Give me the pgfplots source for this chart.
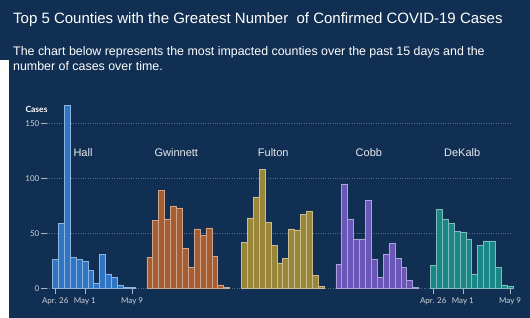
\documentclass[border=0pt]{standalone}
\usepackage{fontspec}
\setmainfont{Liberation Sans}
\newfontfamily\lato{Lato}
\usepackage{pgfplots}
\pgfplotsset{compat=1.18}
\definecolor{navy}{RGB}{17,47,82}
\definecolor{hall}{RGB}{48,116,196}
\definecolor{gwin}{RGB}{166,93,50}
\definecolor{fult}{RGB}{154,134,56}
\definecolor{cobb}{RGB}{106,86,182}
\definecolor{dek}{RGB}{26,134,134}
\definecolor{tickc}{RGB}{205,210,218}
\definecolor{tickm}{RGB}{170,180,194}
\definecolor{gridc}{RGB}{84,108,138}
\definecolor{labc}{RGB}{232,234,238}
\begin{document}
\begin{tikzpicture}
\fill[navy] (0,0) rectangle (530pt,318pt);
\fill[white] (0,0) rectangle (9pt,258pt);
\node[anchor=base west, white, font=\fontsize{15}{18}\selectfont, inner sep=0] at (13pt,294pt) {Top 5 Counties with the Greatest Number\ \ of Confirmed COVID-19 Cases};
\node[anchor=base west, white, font=\fontsize{12.4}{14}\selectfont, inner sep=0] at (13pt,262pt) {The chart below represents the most impacted counties over the past 15 days and the};
\node[anchor=base west, white, font=\fontsize{12.4}{14}\selectfont, inner sep=0] at (13pt,247.5pt) {number of cases over time.};
\node[white, font=\lato\bfseries\fontsize{8.5}{10}\selectfont, inner sep=0] at (36.5pt,209pt) {Cases};
\begin{axis}[
  at={(47pt,29.7pt)}, anchor=south west, scale only axis,
  width=465pt, height=192.5pt,
  xmin=-1.4, xmax=77.33, ymin=0, ymax=175,
  axis line style={draw=none},
  ytick={0,50,100,150},
  xtick={0,5,13,64,69,77},
  xticklabels={Apr. 26,May 1,May 9,Apr. 26,May 1,May 9},
  tick pos=left, tick align=outside, major tick length=6pt,
  tick style={tickm, line width=0.6pt},
  ymajorgrids, grid style={dotted, gridc, line width=0.6pt},
  ticklabel style={font=\lato\fontsize{8}{9}\selectfont, text=tickc},
  yticklabel style={inner sep=1.5pt},
  /pgf/number format/assume math mode=true,
  clip=false,
]
\addplot[ybar, bar width=1, bar shift=0pt, fill=hall, draw=hall!55!white, line width=0.5pt] coordinates {
(0,26) (1,59) (2,166) (3,28) (4,26) (5,25) (6,16) (7,5) (8,31) (9,13) (10,10) (11,2.5) (12,1) (13,0.7)};
\addplot[ybar, bar width=1, bar shift=0pt, fill=gwin, draw=gwin!55!white, line width=0.5pt] coordinates {
(16,28) (17,62) (18,89) (19,63) (20,75) (21,73) (22,36) (23,19) (24,54) (25,48) (26,55) (27,29) (28,3) (29,1)};
\addplot[ybar, bar width=1, bar shift=0pt, fill=fult, draw=fult!55!white, line width=0.5pt] coordinates {
(32,42) (33,64) (34,83) (35,108) (36,60) (37,39) (38,23) (39,27) (40,54) (41,53) (42,67) (43,70) (44,12) (45,1.5)};
\addplot[ybar, bar width=1, bar shift=0pt, fill=cobb, draw=cobb!55!white, line width=0.5pt] coordinates {
(48,22) (49,95) (50,63) (51,45) (52,45) (53,80) (54,26) (55,10) (56,31) (57,41) (58,27) (59,19) (60,7) (61,0.6)};
\addplot[ybar, bar width=1, bar shift=0pt, fill=dek, draw=dek!55!white, line width=0.5pt] coordinates {
(64,21) (65,72) (66,63) (67,59) (68,52) (69,51) (70,45) (71,13) (72,39) (73,43) (74,43) (75,19) (76,3) (77,1.5)};
\node[labc, font=\fontsize{11}{13}\selectfont] at (axis cs:4.7,123) {Hall};
\node[labc, font=\fontsize{11}{13}\selectfont] at (axis cs:20.5,123) {Gwinnett};
\node[labc, font=\fontsize{11}{13}\selectfont] at (axis cs:36.9,123) {Fulton};
\node[labc, font=\fontsize{11}{13}\selectfont] at (axis cs:53.1,123) {Cobb};
\node[labc, font=\fontsize{11}{13}\selectfont] at (axis cs:68.9,123) {DeKalb};
\end{axis}
\pgfresetboundingbox
\useasboundingbox (0,0) rectangle (530pt,318pt);
\end{tikzpicture}
\end{document}
